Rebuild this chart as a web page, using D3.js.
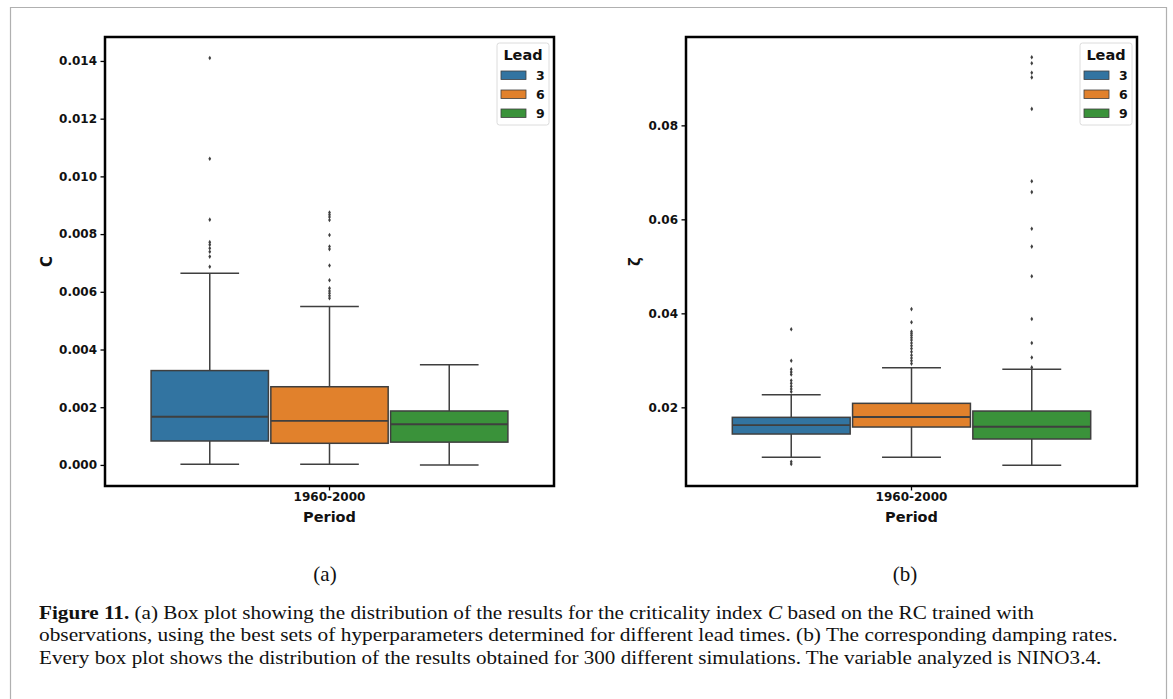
<!DOCTYPE html>
<html>
<head>
<meta charset="utf-8">
<script src="https://cdn.jsdelivr.net/npm/d3@7/dist/d3.min.js"></script>
<style>
  html, body { margin: 0; padding: 0; background: #fff; }
  svg { display: block; }
</style>
</head>
<body>
<svg id="fig" width="1173" height="699"></svg>
<script>
// ---------------- DATA ----------------
const periods = ["1960-2000"];
const leads = ["3", "6", "9"];
const leadColors = ["#3274a1", "#e1812c", "#3a923a"];

// Panel (a): criticality index C
const cTicks = [0.000, 0.002, 0.004, 0.006, 0.008, 0.010, 0.012, 0.014];
const cWhiskerLow  = [0.00002, 0.00002, 0.00000];
const cQ1          = [0.00083, 0.00075, 0.00079];
const cMedian      = [0.00167, 0.00153, 0.00141];
const cQ3          = [0.00327, 0.00271, 0.00187];
const cWhiskerHigh = [0.00664, 0.00549, 0.00347];
const cOutliersLead3 = [0.0141, 0.01061, 0.0085, 0.00772, 0.00763, 0.00751, 0.00739, 0.00722, 0.00687];
const cOutliersLead6 = [0.00875, 0.00867, 0.00859, 0.00849, 0.00797, 0.00757, 0.00748, 0.00691, 0.0064, 0.00612, 0.00603, 0.00595, 0.00586, 0.00578];
const cOutliersLead9 = [];

// Panel (b): damping rate zeta
const zTicks = [0.02, 0.04, 0.06, 0.08];
const zWhiskerLow  = [0.00936, 0.00936, 0.00766];
const zQ1          = [0.01432, 0.01581, 0.01326];
const zMedian      = [0.01623, 0.01794, 0.01587];
const zQ3          = [0.01787, 0.02085, 0.01921];
const zWhiskerHigh = [0.02268, 0.02843, 0.02809];
const zOutliersLead3 = [0.0366, 0.0299, 0.0281, 0.0275, 0.0270, 0.0257, 0.0251, 0.0245, 0.0239, 0.0233, 0.00843, 0.00794];
const zOutliersLead6 = [0.0409, 0.0381, 0.0361, 0.0357, 0.0353, 0.0348, 0.0343, 0.0337, 0.0331, 0.0325, 0.0318, 0.0311, 0.0305, 0.0299, 0.0293];
const zOutliersLead9 = [0.0945, 0.0932, 0.0912, 0.0902, 0.0835, 0.0681, 0.0658, 0.0580, 0.0542, 0.0479, 0.0388, 0.0337, 0.0306, 0.0285];

const legendTitle = "Lead";
const xLabel = "Period";
const panelLabels = ["(a)", "(b)"];
const captionLines = [
  [["Figure 11.", "bold"], [" (a) Box plot showing the distribution of the results for the criticality index ", "normal"], ["C", "italic"], [" based on the RC trained with", "normal"]],
  [["observations, using the best sets of hyperparameters determined for different lead times. (b) The corresponding damping rates.", "normal"]],
  [["Every box plot shows the distribution of the results obtained for 300 different simulations. The variable analyzed is NINO3.4.", "normal"]]
];

// ---------------- DRAWING ----------------
const svg = d3.select("#fig");
svg.append("rect").attr("width", 1173).attr("height", 699).attr("fill", "#fff");

// outer figure border
svg.append("path")
  .attr("d", "M10.5,699 L10.5,7.5 L1166.5,7.5 L1166.5,699")
  .attr("fill", "none").attr("stroke", "#b0b0b0").attr("stroke-width", 1.2);

const edge = "#3f3f3f";
const tickFont = "'DejaVu Sans', sans-serif";

function drawPanel(cfg) {
  const g = svg.append("g");
  const x = d3.scaleBand().domain(periods).range([cfg.x0, cfg.x1]).padding(0);
  const y = d3.scaleLinear().domain(cfg.yDomain).range([cfg.y1, cfg.y0]);

  // y axis
  const yAxis = d3.axisLeft(y).tickValues(cfg.ticks).tickFormat(d3.format(cfg.fmt)).tickSize(4.5).tickPadding(3.5);
  const ya = g.append("g").attr("transform", `translate(${cfg.x0},0)`).call(yAxis);
  ya.select(".domain").remove();
  ya.selectAll(".tick line").attr("stroke", "#000").attr("stroke-width", 1.3);
  ya.selectAll(".tick text").attr("font-family", tickFont).attr("font-weight", "bold")
    .attr("font-size", 12).attr("fill", "#111");

  // x axis
  const xAxis = d3.axisBottom(x).tickSize(4.5).tickPadding(4);
  const xa = g.append("g").attr("transform", `translate(0,${cfg.y1})`).call(xAxis);
  xa.select(".domain").remove();
  xa.selectAll(".tick line").attr("stroke", "#000").attr("stroke-width", 1.3);
  xa.selectAll(".tick text").attr("font-family", tickFont).attr("font-weight", "bold")
    .attr("font-size", 12).attr("fill", "#111").attr("dy", "0.55em");

  // hue scale inside category
  const bw = x.bandwidth();
  const cx = x(periods[0]);
  const hue = d3.scaleBand().domain(leads).range([cx + 0.1 * bw, cx + 0.9 * bw]).padding(0);
  const boxW = hue.bandwidth() * 0.98;

  leads.forEach((l, i) => {
    const c = hue(l) + hue.bandwidth() / 2;
    const col = leadColors[i];
    // whiskers
    g.append("line").attr("x1", c).attr("x2", c).attr("y1", y(cfg.q3[i])).attr("y2", y(cfg.wHigh[i]))
      .attr("stroke", edge).attr("stroke-width", 1.5);
    g.append("line").attr("x1", c).attr("x2", c).attr("y1", y(cfg.q1[i])).attr("y2", y(cfg.wLow[i]))
      .attr("stroke", edge).attr("stroke-width", 1.5);
    // caps
    [cfg.wHigh[i], cfg.wLow[i]].forEach(v => {
      g.append("line").attr("x1", c - boxW / 4).attr("x2", c + boxW / 4).attr("y1", y(v)).attr("y2", y(v))
        .attr("stroke", edge).attr("stroke-width", 1.5);
    });
    // box
    g.append("rect").attr("x", c - boxW / 2).attr("width", boxW)
      .attr("y", y(cfg.q3[i])).attr("height", y(cfg.q1[i]) - y(cfg.q3[i]))
      .attr("fill", col).attr("stroke", edge).attr("stroke-width", 1.5);
    // median
    g.append("line").attr("x1", c - boxW / 2).attr("x2", c + boxW / 2)
      .attr("y1", y(cfg.med[i])).attr("y2", y(cfg.med[i]))
      .attr("stroke", edge).attr("stroke-width", 1.8);
    // outliers
    g.selectAll(null).data(cfg.outliers[i]).enter().append("path")
      .attr("d", d => { const yy = y(d); return `M${c},${yy - 2.3} L${c + 1.4},${yy} L${c},${yy + 2.3} L${c - 1.4},${yy} Z`; })
      .attr("fill", edge);
  });

  // frame
  g.append("rect").attr("x", cfg.x0).attr("y", cfg.y0).attr("width", cfg.x1 - cfg.x0).attr("height", cfg.y1 - cfg.y0)
    .attr("fill", "none").attr("stroke", "#000").attr("stroke-width", 2.5);

  // axis labels
  g.append("text").attr("transform", `translate(${cfg.yLabelX},${(cfg.y0 + cfg.y1) / 2}) rotate(-90)`)
    .attr("text-anchor", "middle").attr("font-family", tickFont).attr("font-weight", "bold")
    .attr("font-size", 15).attr("fill", "#111").text(cfg.yLabel);
  g.append("text").attr("x", (cfg.x0 + cfg.x1) / 2).attr("y", cfg.y1 + 35.5)
    .attr("text-anchor", "middle").attr("font-family", tickFont).attr("font-weight", "bold")
    .attr("font-size", 14.5).attr("fill", "#111").text(xLabel);

  // legend
  const lx = cfg.x1 - 57, ly = cfg.y0 + 6;
  const lg = g.append("g").attr("transform", `translate(${lx},${ly})`);
  lg.append("rect").attr("width", 52).attr("height", 82).attr("rx", 2.5)
    .attr("fill", "#fff").attr("fill-opacity", 0.85).attr("stroke", "#dcdcdc").attr("stroke-width", 1);
  lg.append("text").attr("x", 26).attr("y", 17).attr("text-anchor", "middle")
    .attr("font-family", tickFont).attr("font-weight", "bold").attr("font-size", 14.5).attr("fill", "#111")
    .text(legendTitle);
  leads.forEach((l, i) => {
    lg.append("rect").attr("x", 4).attr("y", 28 + i * 19).attr("width", 25).attr("height", 8.5)
      .attr("fill", leadColors[i]).attr("stroke", edge).attr("stroke-width", 0.8);
    lg.append("text").attr("x", 39).attr("y", 37 + i * 19)
      .attr("font-family", tickFont).attr("font-weight", "bold").attr("font-size", 12.5).attr("fill", "#111")
      .text(l);
  });

  // panel label
  svg.append("text").attr("x", cfg.labelX).attr("y", 581).attr("text-anchor", "middle")
    .attr("font-family", "'Liberation Serif', serif").attr("font-size", 21).attr("fill", "#111")
    .text(cfg.panelLabel);
}

drawPanel({
  x0: 105, x1: 554, y0: 37, y1: 486,
  yDomain: [-0.00073, 0.01483], ticks: cTicks, fmt: ".3f",
  q1: cQ1, med: cMedian, q3: cQ3, wLow: cWhiskerLow, wHigh: cWhiskerHigh,
  outliers: [cOutliersLead3, cOutliersLead6, cOutliersLead9],
  yLabel: "C", yLabelX: 52, labelX: 325, panelLabel: panelLabels[0]
});
drawPanel({
  x0: 686, x1: 1137, y0: 37, y1: 486,
  yDomain: [0.00326, 0.0988], ticks: zTicks, fmt: ".2f",
  q1: zQ1, med: zMedian, q3: zQ3, wLow: zWhiskerLow, wHigh: zWhiskerHigh,
  outliers: [zOutliersLead3, zOutliersLead6, zOutliersLead9],
  yLabel: "ζ", yLabelX: 640, labelX: 905, panelLabel: panelLabels[1]
});

// caption
const capX = 39;
const capTargets = [1035, 1118, 1102];
const capBaselines = [619, 641.5, 664];
captionLines.forEach((parts, i) => {
  const t = svg.append("text").attr("x", capX).attr("y", capBaselines[i])
    .attr("font-family", "'Liberation Serif', 'Times New Roman', serif").attr("font-size", 18.5).attr("fill", "#111");
  parts.forEach(([s, st]) => {
    const ts = t.append("tspan").text(s);
    if (st === "bold") ts.attr("font-weight", "bold");
    if (st === "italic") ts.attr("font-style", "italic");
  });
  const w = t.node().getBBox().width;
  const sx = (capTargets[i] - capX) / w;
  t.attr("transform", `translate(${capX},0) scale(${sx},1) translate(${-capX},0)`);
});
</script>
</body>
</html>
